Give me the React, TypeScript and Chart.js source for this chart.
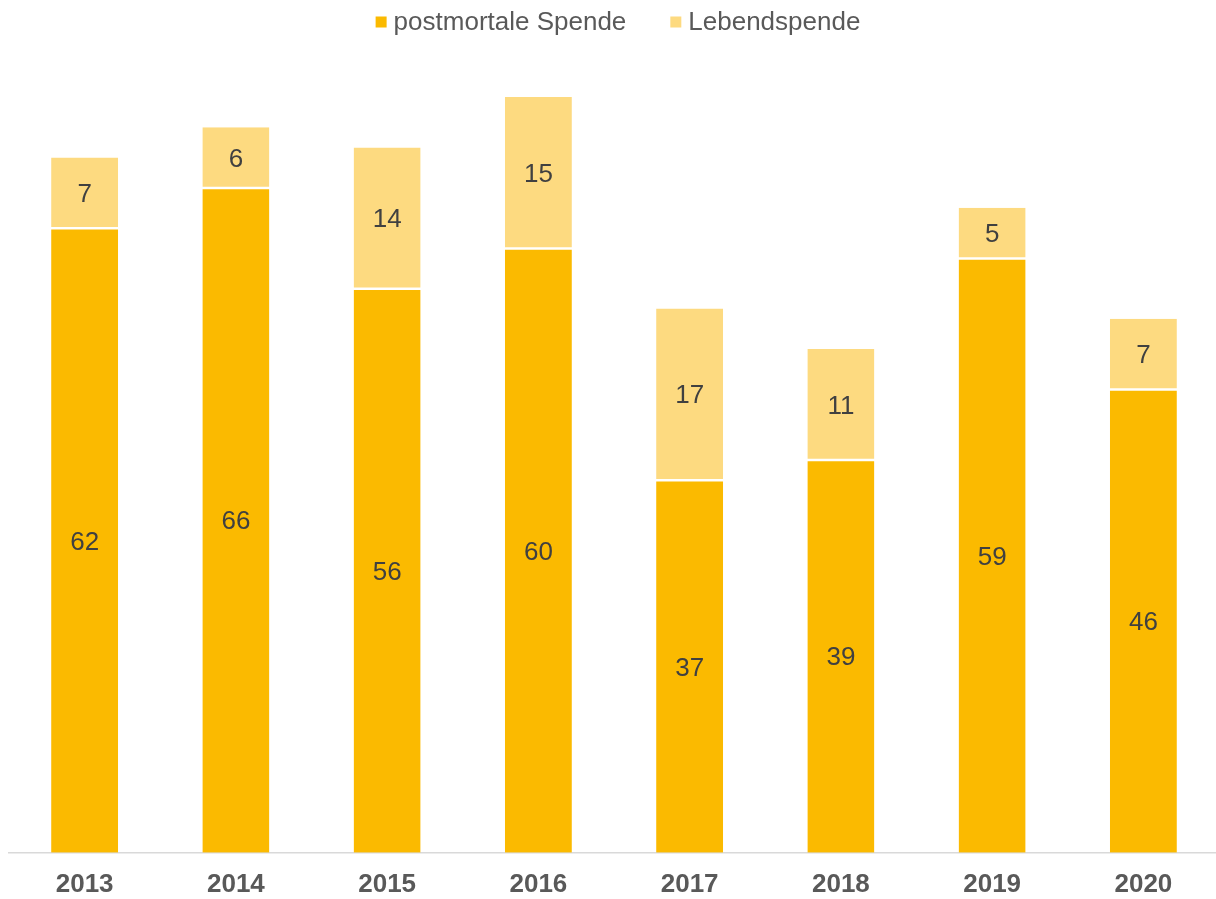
import React, { useEffect, useRef } from "react";
import { Chart, registerables } from "chart.js";

Chart.register(...registerables);

const years = ["2013", "2014", "2015", "2016", "2017", "2018", "2019", "2020"];
const postmortal = [62, 66, 56, 60, 37, 39, 59, 46];
const lebend = [7, 6, 14, 15, 17, 11, 5, 7];
const seriesLabels = ["postmortale Spende", "Lebendspende"];

const FONT = '"Liberation Sans", Arial, sans-serif';
const DARK = "#FBBA00";
const LIGHT = "#FDDA80";

const legendPlugin = {
  id: "customLegend",
  afterDraw(chart: any) {
    const ctx = chart.ctx;
    ctx.save();
    ctx.font = `26px ${FONT}`;
    const items = chart.data.datasets.map((ds: any) => ({ text: ds.label, color: ds.backgroundColor }));
    const box = 11, gap = 7, itemGap = 44;
    const widths = items.map((i: any) => box + gap + ctx.measureText(i.text).width);
    const total = widths.reduce((a: number, b: number) => a + b, 0) + itemGap * (items.length - 1);
    let x = (chart.chartArea.left + chart.chartArea.right) / 2 + 4 - total / 2;
    const cy = 22;
    items.forEach((it: any, i: number) => {
      ctx.fillStyle = it.color;
      ctx.fillRect(x, cy - box / 2, box, box);
      ctx.fillStyle = "#595959";
      ctx.textBaseline = "middle";
      ctx.textAlign = "left";
      ctx.fillText(it.text, x + box + gap, cy + 1);
      x += widths[i] + itemGap;
    });
    ctx.restore();
  },
};

const valueLabelPlugin = {
  id: "valueLabels",
  afterDatasetsDraw(chart: any) {
    const ctx = chart.ctx;
    ctx.save();
    ctx.font = `26px ${FONT}`;
    ctx.fillStyle = "#404040";
    ctx.textAlign = "center";
    ctx.textBaseline = "middle";
    chart.data.datasets.forEach((ds: any, di: number) => {
      const meta = chart.getDatasetMeta(di);
      meta.data.forEach((el: any, i: number) => {
        const cy = (el.y + el.base) / 2;
        ctx.fillText(String(ds.data[i]), el.x, cy + 2);
      });
    });
    ctx.restore();
  },
};

export default function App() {
  const ref = useRef<HTMLCanvasElement>(null);
  useEffect(() => {
    document.documentElement.style.overflow = "hidden";
    document.body.style.overflow = "hidden";
    const chart = new Chart(ref.current!, {
      type: "bar",
      data: {
        labels: years,
        datasets: [
          {
            label: seriesLabels[0],
            data: postmortal,
            backgroundColor: DARK,
            borderColor: "#ffffff",
            borderWidth: { top: 1.5, left: 0, right: 0, bottom: 0 },
            borderSkipped: false,
            categoryPercentage: 1,
            barPercentage: 0.443,
          },
          {
            label: seriesLabels[1],
            data: lebend,
            backgroundColor: LIGHT,
            borderColor: "#ffffff",
            borderWidth: { top: 0, left: 0, right: 0, bottom: 1 },
            borderSkipped: false,
            categoryPercentage: 1,
            barPercentage: 0.443,
          },
        ],
      },
      options: {
        responsive: false,
        animation: false,
        layout: { padding: { left: 9, right: 1, top: 46.6, bottom: -17 } },
        plugins: { legend: { display: false }, tooltip: { enabled: false } },
        scales: {
          x: {
            stacked: true,
            grid: { display: false, drawTicks: false },
            border: { display: true, color: "#D9D9D9", width: 1.5 },
            ticks: { font: { family: FONT, size: 26, weight: "bold" }, color: "#595959", padding: 16 },
          },
          y: { stacked: true, display: false, min: 0, max: 80 },
        },
      },
      plugins: [legendPlugin, valueLabelPlugin],
    });
    return () => chart.destroy();
  }, []);
  return (
    <div style={{ position: "absolute", left: 0, top: 0, width: 1220, height: 899 }}>
      <canvas ref={ref} width={1220} height={899} style={{ display: "block" }} />
    </div>
  );
}
